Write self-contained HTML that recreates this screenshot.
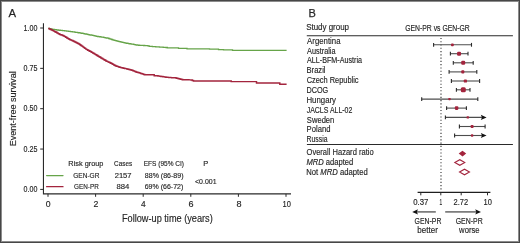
<!DOCTYPE html>
<html><head><meta charset="utf-8"><style>
html,body{margin:0;padding:0;background:#fff;}
body{width:520px;height:243px;overflow:hidden;}
svg{display:block;will-change:transform;}
text{font-family:"Liberation Sans",sans-serif;fill:#262626;stroke:#262626;stroke-width:0.15px;}
</style></head><body>
<svg width="520" height="243" viewBox="0 0 520 243">
<rect x="0" y="0" width="520" height="243" fill="#fff"/>
<rect x="0.5" y="0.5" width="519" height="242" fill="none" stroke="#474747" stroke-width="1"/>
<rect x="1.5" y="1.5" width="517" height="240" fill="none" stroke="#8c8c8c" stroke-width="1"/>
<path d="M43.45,23.3 V193.9 H291" fill="none" stroke="#2a2a2a" stroke-width="1.1"/>
<line x1="40.2" y1="28" x2="43.5" y2="28" stroke="#2a2a2a" stroke-width="1"/>
<line x1="40.2" y1="68.35" x2="43.5" y2="68.35" stroke="#2a2a2a" stroke-width="1"/>
<line x1="40.2" y1="108.7" x2="43.5" y2="108.7" stroke="#2a2a2a" stroke-width="1"/>
<line x1="40.2" y1="149.05" x2="43.5" y2="149.05" stroke="#2a2a2a" stroke-width="1"/>
<line x1="40.2" y1="189.4" x2="43.5" y2="189.4" stroke="#2a2a2a" stroke-width="1"/>
<line x1="48.0" y1="193.9" x2="48.0" y2="196.8" stroke="#2a2a2a" stroke-width="1"/>
<line x1="95.6" y1="193.9" x2="95.6" y2="196.8" stroke="#2a2a2a" stroke-width="1"/>
<line x1="143.2" y1="193.9" x2="143.2" y2="196.8" stroke="#2a2a2a" stroke-width="1"/>
<line x1="190.8" y1="193.9" x2="190.8" y2="196.8" stroke="#2a2a2a" stroke-width="1"/>
<line x1="238.4" y1="193.9" x2="238.4" y2="196.8" stroke="#2a2a2a" stroke-width="1"/>
<line x1="286.0" y1="193.9" x2="286.0" y2="196.8" stroke="#2a2a2a" stroke-width="1"/>
<path d="M48.20,28.30H49.30V28.55H50.40V28.80H51.50V29.05H52.60V29.30H53.54V29.44H54.49V29.57H55.43V29.71H56.37V29.84H57.31V29.98H58.26V30.11H59.20V30.25H60.28V30.36H61.37V30.47H62.45V30.57H63.53V30.68H64.62V30.79H65.70V30.90H66.64V31.03H67.59V31.16H68.53V31.29H69.47V31.41H70.41V31.54H71.36V31.67H72.30V31.80H73.36V31.96H74.42V32.12H75.48V32.28H76.54V32.44H77.60V32.60H78.60V32.76H79.60V32.92H80.60V33.08H81.60V33.24H82.60V33.40H83.54V33.60H84.49V33.80H85.43V34.00H86.37V34.20H87.31V34.40H88.26V34.60H89.20V34.80H90.30V35.00H91.40V35.20H92.50V35.40H93.57V35.67H94.63V35.93H95.70V36.20H96.64V36.34H97.59V36.49H98.53V36.63H99.47V36.77H100.41V36.91H101.36V37.06H102.30V37.20H103.36V37.40H104.42V37.60H105.48V37.80H106.54V38.00H107.60V38.20H108.60V38.52H109.60V38.84H110.60V39.16H111.60V39.48H112.60V39.80H113.54V40.06H114.49V40.31H115.43V40.57H116.37V40.83H117.31V41.09H118.26V41.34H119.20V41.60H120.28V41.85H121.37V42.10H122.45V42.35H123.53V42.60H124.62V42.85H125.70V43.10H126.64V43.26H127.59V43.41H128.53V43.57H129.47V43.73H130.41V43.89H131.36V44.04H132.30V44.20H133.36V44.40H134.42V44.60H135.48V44.80H136.54V45.00H137.60V45.20H138.60V45.24H139.60V45.28H140.60V45.32H141.60V45.36H142.60V45.40H143.64V45.48H144.68V45.56H145.72V45.64H146.76V45.72H147.80V45.80H149.20V46.30H150.28V46.38H151.37V46.47H152.45V46.55H153.53V46.63H154.62V46.72H155.70V46.80H156.64V46.86H157.59V46.91H158.53V46.97H159.47V47.03H160.41V47.09H161.36V47.14H162.30V47.20H163.23V47.28H164.15V47.35H165.07V47.42H166.00V47.50H167.30V47.90H177.80H178.50V48.40H186.40H187.00V48.80H209.00H209.50V49.20H218.00H218.50V49.60H223.00H223.50V49.90H232.00H232.50V50.40H286.60" fill="none" stroke="#66a449" stroke-width="1.3"/>
<path d="M48.30,28.50H49.38V29.02H50.45V29.55H51.52V30.08H52.60V30.60H53.70V31.13H54.80V31.67H55.90V32.20H57.00V32.90H58.10V33.60H59.20V34.30H60.30V34.67H61.40V35.03H62.50V35.40H63.57V36.00H64.63V36.60H65.70V37.20H66.80V37.90H67.90V38.60H69.00V39.30H69.95V39.70H70.90V40.10H71.90V40.56H72.90V41.02H73.90V41.48H74.90V41.94H75.90V42.40H76.87V42.90H77.83V43.40H78.80V43.90H79.80V44.65H80.80V45.40H81.80V46.14H82.80V46.88H83.80V47.62H84.80V48.36H85.80V49.10H86.78V49.64H87.76V50.18H88.74V50.72H89.72V51.26H90.70V51.80H91.68V52.38H92.66V52.96H93.64V53.54H94.62V54.12H95.60V54.70H96.80V55.45H98.00V56.20H98.97V56.77H99.93V57.33H100.90V57.90H101.90V58.50H102.90V59.10H103.90V59.70H104.90V60.30H105.90V60.90H106.88V61.38H107.86V61.86H108.84V62.34H109.82V62.82H110.80V63.30H111.80V63.84H112.80V64.38H113.80V64.92H114.80V65.46H115.80V66.00H116.78V66.32H117.76V66.64H118.74V66.96H119.72V67.28H120.70V67.60H121.68V67.80H122.66V68.00H123.64V68.20H124.62V68.40H125.60V68.60H126.80V68.95H128.00V69.30H128.97V69.50H129.93V69.70H130.90V69.90H131.90V70.30H132.90V70.70H133.90V71.10H134.90V71.50H135.90V71.90H136.88V72.20H137.86V72.50H138.84V72.80H139.82V73.10H140.80V73.40H141.80V73.75H142.80V74.10H143.80V74.45H144.80V74.80H153.20H154.20V75.70H156.00H156.98V75.84H157.96V75.98H158.94V76.12H159.92V76.26H160.90V76.40H161.90V76.56H162.90V76.72H163.90V76.88H164.90V77.04H165.90V77.20H166.88V77.28H167.86V77.36H168.84V77.44H169.82V77.52H170.80V77.60H171.80V77.66H172.80V77.72H173.80V77.78H174.80V77.84H175.80V77.90H176.77V78.17H177.73V78.43H178.70V78.70H179.70V78.95H180.70V79.20H181.70V79.45H182.70V79.70H183.74V79.73H184.77V79.75H185.81V79.78H186.85V79.80H187.89V79.83H188.93V79.85H189.96V79.88H191.00V79.90H192.25V80.40H193.50V80.90H230.50H231.20V81.60H255.50H256.50V82.90H279.00H279.80V84.20H286.60" fill="none" stroke="#a3243d" stroke-width="1.45"/>
<line x1="46.6" y1="175.5" x2="63.0" y2="175.5" stroke="#66a449" stroke-width="1.25" stroke-linecap="round"/>
<line x1="46.6" y1="186.7" x2="63.0" y2="186.7" stroke="#a3243d" stroke-width="1.3" stroke-linecap="round"/>
<line x1="306.8" y1="35.75" x2="512.9" y2="35.75" stroke="#2a2a2a" stroke-width="1.2"/>
<line x1="306.9" y1="144.5" x2="512.9" y2="144.5" stroke="#2a2a2a" stroke-width="1.2"/>
<line x1="441" y1="37.95" x2="441" y2="191.5" stroke="#5a5a5a" stroke-width="1.4" stroke-dasharray="1.1,2.17"/>
<line x1="433.6" y1="44.8" x2="471.5" y2="44.8" stroke="#4d4d4d" stroke-width="1.1"/>
<line x1="471.5" y1="42.9" x2="471.5" y2="46.699999999999996" stroke="#2a2a2a" stroke-width="1.1"/>
<line x1="433.6" y1="42.9" x2="433.6" y2="46.699999999999996" stroke="#2a2a2a" stroke-width="1.1"/>
<rect x="451.0" y="43.4" width="2.8" height="2.8" rx="0.84" fill="#a3243d"/>
<line x1="450.4" y1="53.7" x2="468.0" y2="53.7" stroke="#4d4d4d" stroke-width="1.1"/>
<line x1="468.0" y1="51.800000000000004" x2="468.0" y2="55.6" stroke="#2a2a2a" stroke-width="1.1"/>
<line x1="450.4" y1="51.800000000000004" x2="450.4" y2="55.6" stroke="#2a2a2a" stroke-width="1.1"/>
<rect x="457.05" y="51.7" width="4" height="4" rx="1.20" fill="#a3243d"/>
<line x1="453.3" y1="62.8" x2="473.2" y2="62.8" stroke="#4d4d4d" stroke-width="1.1"/>
<line x1="473.2" y1="60.9" x2="473.2" y2="64.7" stroke="#2a2a2a" stroke-width="1.1"/>
<line x1="453.3" y1="60.9" x2="453.3" y2="64.7" stroke="#2a2a2a" stroke-width="1.1"/>
<rect x="461.2" y="60.8" width="4" height="4" rx="1.20" fill="#a3243d"/>
<line x1="449.1" y1="71.9" x2="476.8" y2="71.9" stroke="#4d4d4d" stroke-width="1.1"/>
<line x1="476.8" y1="70.0" x2="476.8" y2="73.80000000000001" stroke="#2a2a2a" stroke-width="1.1"/>
<line x1="449.1" y1="70.0" x2="449.1" y2="73.80000000000001" stroke="#2a2a2a" stroke-width="1.1"/>
<rect x="461.25" y="70.35000000000001" width="3.1" height="3.1" rx="0.93" fill="#a3243d"/>
<line x1="451.4" y1="81.0" x2="479.6" y2="81.0" stroke="#4d4d4d" stroke-width="1.1"/>
<line x1="479.6" y1="79.1" x2="479.6" y2="82.9" stroke="#2a2a2a" stroke-width="1.1"/>
<line x1="451.4" y1="79.1" x2="451.4" y2="82.9" stroke="#2a2a2a" stroke-width="1.1"/>
<rect x="463.79999999999995" y="79.4" width="3.2" height="3.2" rx="0.96" fill="#a3243d"/>
<line x1="456.4" y1="89.8" x2="470.0" y2="89.8" stroke="#4d4d4d" stroke-width="1.1"/>
<line x1="470.0" y1="87.89999999999999" x2="470.0" y2="91.7" stroke="#2a2a2a" stroke-width="1.1"/>
<line x1="456.4" y1="87.89999999999999" x2="456.4" y2="91.7" stroke="#2a2a2a" stroke-width="1.1"/>
<rect x="460.8" y="87.3" width="5" height="5" rx="1.50" fill="#a3243d"/>
<line x1="421.7" y1="99.1" x2="477.8" y2="99.1" stroke="#4d4d4d" stroke-width="1.1"/>
<line x1="477.8" y1="97.19999999999999" x2="477.8" y2="101.0" stroke="#2a2a2a" stroke-width="1.1"/>
<line x1="421.7" y1="97.19999999999999" x2="421.7" y2="101.0" stroke="#2a2a2a" stroke-width="1.1"/>
<rect x="448.3" y="97.89999999999999" width="2.4" height="2.4" rx="0.72" fill="#a3243d"/>
<line x1="446.6" y1="108.1" x2="466.4" y2="108.1" stroke="#4d4d4d" stroke-width="1.1"/>
<line x1="466.4" y1="106.19999999999999" x2="466.4" y2="110.0" stroke="#2a2a2a" stroke-width="1.1"/>
<line x1="446.6" y1="106.19999999999999" x2="446.6" y2="110.0" stroke="#2a2a2a" stroke-width="1.1"/>
<rect x="454.8" y="106.3" width="3.6" height="3.6" rx="1.08" fill="#a3243d"/>
<line x1="445.4" y1="117.4" x2="482.6" y2="117.4" stroke="#4d4d4d" stroke-width="1.1"/>
<path d="M486.6,117.4 L480.8,114.80000000000001 L482.0,117.4 L480.8,120.0 Z" fill="#111"/>
<line x1="445.4" y1="115.5" x2="445.4" y2="119.30000000000001" stroke="#2a2a2a" stroke-width="1.1"/>
<rect x="466.6" y="116.2" width="2.4" height="2.4" rx="0.72" fill="#a3243d"/>
<line x1="459.4" y1="126.5" x2="485.1" y2="126.5" stroke="#4d4d4d" stroke-width="1.1"/>
<line x1="485.1" y1="124.6" x2="485.1" y2="128.4" stroke="#2a2a2a" stroke-width="1.1"/>
<line x1="459.4" y1="124.6" x2="459.4" y2="128.4" stroke="#2a2a2a" stroke-width="1.1"/>
<rect x="470.6" y="125.0" width="3.0" height="3.0" rx="0.90" fill="#a3243d"/>
<line x1="454.6" y1="135.5" x2="482.6" y2="135.5" stroke="#4d4d4d" stroke-width="1.1"/>
<path d="M486.6,135.5 L480.8,132.9 L482.0,135.5 L480.8,138.1 Z" fill="#111"/>
<line x1="454.6" y1="133.6" x2="454.6" y2="137.4" stroke="#2a2a2a" stroke-width="1.1"/>
<rect x="470.90000000000003" y="134.3" width="2.4" height="2.4" rx="0.72" fill="#a3243d"/>
<path d="M458.7,153.6 L462.5,150.8 L466.2,153.6 L462.5,156.4 Z" fill="#a3243d"/>
<path d="M454.8,162.5 L459.8,159.7 L464.8,162.5 L459.8,165.3 Z" fill="none" stroke="#a3243d" stroke-width="1.05"/>
<path d="M459.5,172 L464.5,169.2 L469.5,172 L464.5,174.8 Z" fill="none" stroke="#a3243d" stroke-width="1.05"/>
<line x1="417.6" y1="192.35" x2="490.4" y2="192.35" stroke="#1e1e1e" stroke-width="1.15"/>
<line x1="420.8" y1="192.3" x2="420.8" y2="195.3" stroke="#2a2a2a" stroke-width="1"/>
<line x1="440.8" y1="192.3" x2="440.8" y2="195.3" stroke="#2a2a2a" stroke-width="1"/>
<line x1="461.2" y1="192.3" x2="461.2" y2="195.3" stroke="#2a2a2a" stroke-width="1"/>
<line x1="487.5" y1="192.3" x2="487.5" y2="195.3" stroke="#2a2a2a" stroke-width="1"/>
<line x1="416" y1="211.9" x2="435.8" y2="211.9" stroke="#666" stroke-width="1.5"/>
<path d="M412.2,211.9 L418,209.3 L416.8,211.9 L418,214.5 Z" fill="#111"/>
<line x1="445.2" y1="211.9" x2="477" y2="211.9" stroke="#666" stroke-width="1.5"/>
<path d="M481,211.9 L475.2,209.3 L476.4,211.9 L475.2,214.5 Z" fill="#111"/>
<text x="8.51" y="17.45" font-size="11.6" textLength="7.56" lengthAdjust="spacingAndGlyphs" style="stroke-width:0.25px">A</text>
<text x="308.50" y="17.45" font-size="11.6" textLength="7.34" lengthAdjust="spacingAndGlyphs" style="stroke-width:0.25px">B</text>
<text x="23.47" y="30.7" font-size="8.4" textLength="13.88" lengthAdjust="spacingAndGlyphs">1.00</text>
<text x="23.59" y="71.3" font-size="8.4" textLength="13.89" lengthAdjust="spacingAndGlyphs">0.75</text>
<text x="23.61" y="111.3" font-size="8.4" textLength="13.79" lengthAdjust="spacingAndGlyphs">0.50</text>
<text x="23.59" y="151.5" font-size="8.4" textLength="13.89" lengthAdjust="spacingAndGlyphs">0.25</text>
<text x="23.61" y="191.6" font-size="8.4" textLength="13.79" lengthAdjust="spacingAndGlyphs">0.00</text>
<text x="45.89" y="207.2" font-size="8.4" textLength="4.84" lengthAdjust="spacingAndGlyphs">0</text>
<text x="93.52" y="207.2" font-size="8.4" textLength="4.87" lengthAdjust="spacingAndGlyphs">2</text>
<text x="141.10" y="207.2" font-size="8.4" textLength="4.65" lengthAdjust="spacingAndGlyphs">4</text>
<text x="188.43" y="207.2" font-size="8.4" textLength="5.05" lengthAdjust="spacingAndGlyphs">6</text>
<text x="236.55" y="207.2" font-size="8.4" textLength="5.06" lengthAdjust="spacingAndGlyphs">8</text>
<text x="282.57" y="207.2" font-size="8.4" textLength="8.36" lengthAdjust="spacingAndGlyphs">10</text>
<text x="122.01" y="221.8" font-size="10" textLength="90.70" lengthAdjust="spacingAndGlyphs">Follow-up time (years)</text>
<text x="68.35" y="166.0" font-size="7.4" textLength="35.11" lengthAdjust="spacingAndGlyphs">Risk group</text>
<text x="114.06" y="166.0" font-size="7.4" textLength="18.06" lengthAdjust="spacingAndGlyphs">Cases</text>
<text x="143.75" y="166.0" font-size="7.4" textLength="40.19" lengthAdjust="spacingAndGlyphs">EFS (95% CI)</text>
<text x="203.21" y="166.0" font-size="7.4" textLength="4.99" lengthAdjust="spacingAndGlyphs">P</text>
<text x="73.26" y="177.6" font-size="7.4" textLength="26.14" lengthAdjust="spacingAndGlyphs">GEN-GR</text>
<text x="114.67" y="177.6" font-size="7.4" textLength="16.95" lengthAdjust="spacingAndGlyphs">2157</text>
<text x="144.83" y="177.6" font-size="7.4" textLength="38.69" lengthAdjust="spacingAndGlyphs">88% (86-89)</text>
<text x="74.07" y="188.5" font-size="7.4" textLength="24.66" lengthAdjust="spacingAndGlyphs">GEN-PR</text>
<text x="116.56" y="188.5" font-size="7.4" textLength="12.84" lengthAdjust="spacingAndGlyphs">884</text>
<text x="144.70" y="188.5" font-size="7.4" textLength="38.64" lengthAdjust="spacingAndGlyphs">69% (66-72)</text>
<text x="195.06" y="184.0" font-size="7.4" textLength="21.46" lengthAdjust="spacingAndGlyphs">&lt;0.001</text>
<text x="306.16" y="30.4" font-size="8.4" textLength="42.87" lengthAdjust="spacingAndGlyphs">Study group</text>
<text x="405.24" y="30.8" font-size="8.4" textLength="64.53" lengthAdjust="spacingAndGlyphs">GEN-PR vs GEN-GR</text>
<text x="307.11" y="43.9" font-size="8.6" textLength="33.39" lengthAdjust="spacingAndGlyphs">Argentina</text>
<text x="307.03" y="53.7" font-size="8.6" textLength="28.54" lengthAdjust="spacingAndGlyphs">Australia</text>
<text x="307.05" y="63.4" font-size="8.6" textLength="54.97" lengthAdjust="spacingAndGlyphs">ALL-BFM-Austria</text>
<text x="306.55" y="73.3" font-size="8.6" textLength="18.98" lengthAdjust="spacingAndGlyphs">Brazil</text>
<text x="306.63" y="83.1" font-size="8.6" textLength="51.93" lengthAdjust="spacingAndGlyphs">Czech Republic</text>
<text x="306.51" y="93.0" font-size="8.6" textLength="21.75" lengthAdjust="spacingAndGlyphs">DCOG</text>
<text x="306.44" y="103.3" font-size="8.6" textLength="29.58" lengthAdjust="spacingAndGlyphs">Hungary</text>
<text x="306.68" y="113.1" font-size="8.6" textLength="45.70" lengthAdjust="spacingAndGlyphs">JACLS ALL-02</text>
<text x="306.85" y="122.6" font-size="8.6" textLength="27.48" lengthAdjust="spacingAndGlyphs">Sweden</text>
<text x="306.61" y="131.9" font-size="8.6" textLength="23.79" lengthAdjust="spacingAndGlyphs">Poland</text>
<text x="306.61" y="141.8" font-size="8.6" textLength="20.96" lengthAdjust="spacingAndGlyphs">Russia</text>
<text x="306.53" y="154.8" font-size="8.6" textLength="67.08" lengthAdjust="spacingAndGlyphs">Overall Hazard ratio</text>
<text x="306.42" y="164.9" font-size="8.6" textLength="46.92" lengthAdjust="spacingAndGlyphs"><tspan font-style="italic">MRD</tspan> adapted</text>
<text x="306.29" y="174.5" font-size="8.6" textLength="61.43" lengthAdjust="spacingAndGlyphs">Not <tspan font-style="italic">MRD</tspan> adapted</text>
<text x="413.29" y="205.3" font-size="8.4" textLength="15.17" lengthAdjust="spacingAndGlyphs">0.37</text>
<text x="439.41" y="205.3" font-size="8.4" textLength="2.67" lengthAdjust="spacingAndGlyphs">1</text>
<text x="453.61" y="205.3" font-size="8.4" textLength="14.50" lengthAdjust="spacingAndGlyphs">2.72</text>
<text x="483.57" y="205.3" font-size="8.4" textLength="8.36" lengthAdjust="spacingAndGlyphs">10</text>
<text x="414.57" y="224.2" font-size="8.4" textLength="26.85" lengthAdjust="spacingAndGlyphs">GEN-PR</text>
<text x="417.36" y="233.3" font-size="8.4" textLength="20.48" lengthAdjust="spacingAndGlyphs">better</text>
<text x="455.70" y="224.2" font-size="8.4" textLength="27.01" lengthAdjust="spacingAndGlyphs">GEN-PR</text>
<text x="459.11" y="233.3" font-size="8.4" textLength="20.40" lengthAdjust="spacingAndGlyphs">worse</text>
<text transform="translate(15.6,146.3) rotate(-90)" font-size="9.8" textLength="75" lengthAdjust="spacingAndGlyphs">Event-free survival</text>
</svg>
</body></html>
